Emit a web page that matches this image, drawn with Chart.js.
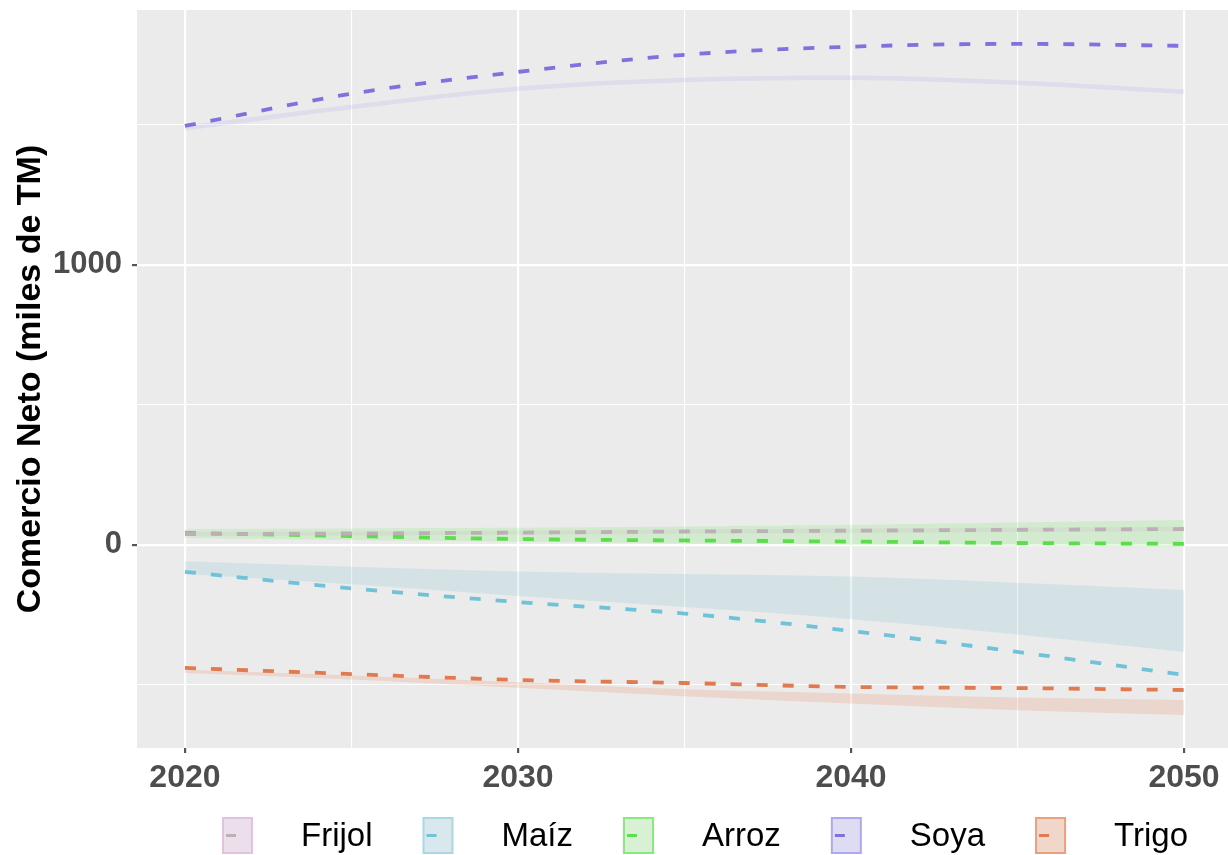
<!DOCTYPE html>
<html>
<head>
<meta charset="utf-8">
<script src="https://cdn.jsdelivr.net/npm/chart.js@4.4.1/dist/chart.umd.min.js"></script>
<style>
  body { margin: 0; background: #ffffff; }
  #wrap { width: 1228px; height: 855px; }
</style>
</head>
<body>
<div id="wrap"><canvas id="comercio" width="1228" height="855"></canvas></div>
<script>
const years = [2020, 2025, 2030, 2035, 2040, 2045, 2050];
const cultivos = ['Frijol', 'Maíz', 'Arroz', 'Soya', 'Trigo'];

// escenario (linea discontinua)
const frijolEsc = [39, 41, 44, 48, 51, 54, 57];
const maizEsc = [-96, -155, -204, -245, -307, -382, -464];
const arrozEsc = [43, 32, 21, 16, 12, 7, 4];
const soyaEsc = [1496, 1611, 1689, 1750, 1779, 1789, 1782];
const trigoEsc = [-439, -461, -482, -493, -507, -511, -518];

// rango (banda)
const frijolLow = [32, 34, 37, 40, 43, 46, 49];
const frijolHigh = [46, 48, 51, 56, 59, 62, 65];
const maizLow = [-104, -140, -182, -222, -265, -320, -382];
const maizHigh = [-58, -78, -95, -104, -113, -135, -161];
const arrozLow = [25, 18, 11, 5, 0, -4, -7];
const arrozHigh = [57, 59, 61, 66, 71, 80, 89];
const soyaLow = [1480, 1556, 1621, 1652, 1660, 1642, 1610];
const soyaHigh = [1498, 1572, 1637, 1668, 1676, 1658, 1626];
const trigoLow = [-457, -480, -510, -540, -566, -590, -607];
const trigoHigh = [-446, -466, -490, -515, -530, -545, -554];

const yTicks = [-500, 0, 500, 1000, 1500];

const lineColors = ['#bcb0b6', '#6ec3d8', '#5ddc4e', '#7f72dc', '#e07a50'];
const bandColors = [
  'rgba(210,150,210,0.12)',
  'rgba(110,190,210,0.18)',
  'rgba(100,235,80,0.18)',
  'rgba(150,140,235,0.15)',
  'rgba(235,130,90,0.20)'
];
const keyBorder = ['#e2c2e0', '#a9d7e3', '#8ae880', '#b0a8ef', '#e9a080'];
const keyFill = ['#eadfea', '#d9e8ec', '#d8f0d4', '#dedcf2', '#f1d6ca'];

const escs = [frijolEsc, maizEsc, arrozEsc, soyaEsc, trigoEsc];
const lows = [frijolLow, maizLow, arrozLow, soyaLow, trigoLow];
const highs = [frijolHigh, maizHigh, arrozHigh, soyaHigh, trigoHigh];

const pts = vals => vals.map((v, i) => ({ x: years[i], y: v }));

const datasets = [];
cultivos.forEach((c, k) => {
  const lowIdx = datasets.length;
  datasets.push({
    label: c + ' min',
    data: pts(lows[k]),
    borderWidth: 0,
    pointRadius: 0,
    fill: false,
    cubicInterpolationMode: 'monotone',
    order: 3
  });
  datasets.push({
    label: c + ' max',
    data: pts(highs[k]),
    borderWidth: 0,
    pointRadius: 0,
    backgroundColor: bandColors[k],
    fill: lowIdx,
    cubicInterpolationMode: 'monotone',
    order: 2
  });
});
cultivos.forEach((c, k) => {
  datasets.push({
    label: c,
    data: pts(escs[k]),
    borderColor: lineColors[k],
    borderWidth: 3.8,
    borderDash: [11, 15],
    pointRadius: 0,
    fill: false,
    cubicInterpolationMode: 'monotone',
    order: 1
  });
});

const panelBg = {
  id: 'panelBg',
  beforeDraw(chart) {
    const { ctx, chartArea: a } = chart;
    ctx.save();
    ctx.fillStyle = '#ebebeb';
    ctx.fillRect(a.left, a.top, a.right - a.left, a.bottom - a.top);
    ctx.restore();
  }
};

const leyenda = {
  id: 'leyenda',
  afterDraw(chart) {
    const ctx = chart.ctx;
    ctx.save();
    ctx.font = '33px "Liberation Sans", Arial, sans-serif';
    ctx.textBaseline = 'middle';
    let x = 223;
    const y = 818, h = 35, w = 29;
    cultivos.forEach((c, k) => {
      ctx.fillStyle = keyFill[k];
      ctx.fillRect(x, y, w, h);
      ctx.strokeStyle = keyBorder[k];
      ctx.lineWidth = 2;
      ctx.strokeRect(x, y, w, h);
      ctx.strokeStyle = lineColors[k];
      ctx.lineWidth = 3;
      ctx.beginPath();
      ctx.moveTo(x + 3, y + h / 2);
      ctx.lineTo(x + 13, y + h / 2);
      ctx.stroke();
      ctx.fillStyle = '#000000';
      ctx.fillText(c, x + w + 49, y + h / 2 + 1);
      x += w + 49 + ctx.measureText(c).width + 51;
    });
    ctx.restore();
  }
};

const ctx = document.getElementById('comercio').getContext('2d');
const chart = new Chart(ctx, {
  type: 'line',
  data: { datasets: datasets },
  plugins: [panelBg, leyenda],
  options: {
    responsive: false,
    animation: false,
    devicePixelRatio: 1,
    layout: { padding: { top: 10, right: 0, bottom: 0, left: 0 } },
    plugins: {
      legend: { display: false },
      tooltip: { enabled: false },
      filler: { propagate: false }
    },
    scales: {
      x: {
        type: 'linear',
        min: 2018.56,
        max: 2051.32,
        afterBuildTicks: s => { s.ticks = years.map(v => ({ value: v })); },
        afterFit: s => { s.height = 107; s.paddingLeft = 0; s.paddingRight = 0; },
        border: { display: false },
        grid: {
          color: '#ffffff',
          lineWidth: c => (c.tick && c.tick.value % 10 === 0 ? 2.2 : 1.1),
          tickColor: c => (c.tick && c.tick.value % 10 === 0 ? '#555555' : 'rgba(0,0,0,0)'),
          tickLength: 5,
          drawTicks: true
        },
        ticks: {
          autoSkip: false,
          maxRotation: 0,
          padding: 6,
          color: '#4d4d4d',
          font: { family: '"Liberation Sans", Arial, sans-serif', size: 32, weight: 'bold' },
          callback: v => (v % 10 === 0 ? String(v) : '')
        }
      },
      y: {
        min: -725,
        max: 1910,
        afterBuildTicks: s => { s.ticks = yTicks.map(v => ({ value: v })); },
        afterFit: s => { s.width = 137; s.paddingTop = 0; s.paddingBottom = 0; },
        border: { display: false },
        grid: {
          color: '#ffffff',
          lineWidth: c => (c.tick && c.tick.value % 1000 === 0 ? 2.2 : 1.1),
          tickColor: c => (c.tick && c.tick.value % 1000 === 0 ? '#555555' : 'rgba(0,0,0,0)'),
          tickLength: 5,
          drawTicks: true
        },
        ticks: {
          padding: 10,
          color: '#4d4d4d',
          font: { family: '"Liberation Sans", Arial, sans-serif', size: 31, weight: 'bold' },
          callback: v => (v % 1000 === 0 ? String(v) : '')
        },
        title: {
          display: true,
          text: 'Comercio Neto (miles de TM)',
          color: '#000000',
          padding: { top: 10, bottom: 0 },
          font: { family: '"Liberation Sans", Arial, sans-serif', size: 34, weight: 'bold' }
        }
      }
    }
  }
});
</script>
</body>
</html>
